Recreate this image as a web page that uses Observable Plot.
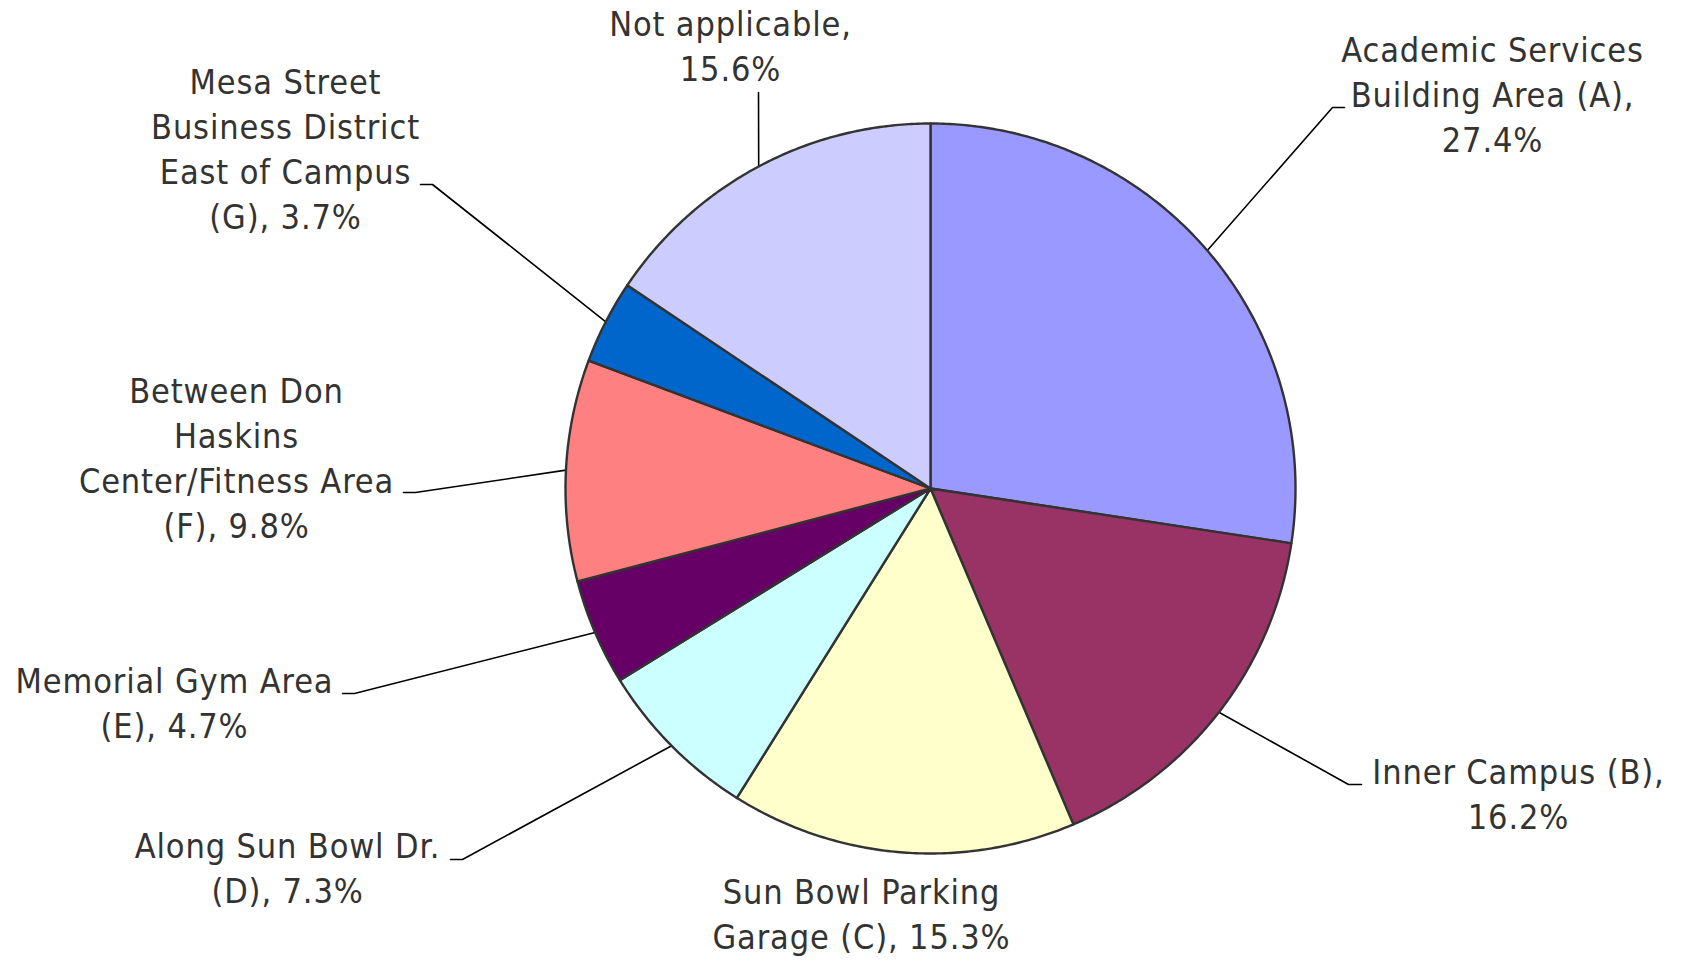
<!DOCTYPE html>
<html>
<head>
<meta charset="utf-8">
<script src="https://cdn.jsdelivr.net/npm/d3@7"></script>
<script src="https://cdn.jsdelivr.net/npm/@observablehq/plot@0.6"></script>
<style>
  html, body { margin: 0; padding: 0; background: #fff; }
  #chart { width: 1688px; height: 962px; }
  #chart svg text { letter-spacing: 0.85px; }
</style>
</head>
<body>
<div id="chart"></div>
<script>
// ---- data ----
const categories = [
  "Academic Services Building Area (A)",
  "Inner Campus (B)",
  "Sun Bowl Parking Garage (C)",
  "Along Sun Bowl Dr. (D)",
  "Memorial Gym Area (E)",
  "Between Don Haskins Center/Fitness Area (F)",
  "Mesa Street Business District East of Campus (G)",
  "Not applicable"
];
const values = [27.4, 16.2, 15.3, 7.3, 4.7, 9.8, 3.7, 15.6];
const colors = ["#9999FF", "#993366", "#FFFFCC", "#CCFFFF", "#660066", "#FF8080", "#0066CC", "#CCCCFF"];
const labelText = [
  "Academic Services\nBuilding Area (A),\n27.4%",
  "Inner Campus (B),\n16.2%",
  "Sun Bowl Parking\nGarage (C), 15.3%",
  "Along Sun Bowl Dr.\n(D), 7.3%",
  "Memorial Gym Area\n(E), 4.7%",
  "Between Don\nHaskins\nCenter/Fitness Area\n(F), 9.8%",
  "Mesa Street\nBusiness District\nEast of Campus\n(G), 3.7%",
  "Not applicable,\n15.6%"
];

// ---- layout (pixels) ----
const W = 1688, H = 962;
const cx = 930, cy = 488, R = 365;
// label anchor (tx,ty), leader elbow (ex,ey), leader end x (hx); null = no leader
const labelLayout = [
  {tx: 1492, ty: 92,  leader: {ex: 1332, ey: 107, hx: 1344}},
  {tx: 1518, ty: 792, leader: {ex: 1348, ey: 784, hx: 1361}},
  {tx: 861,  ty: 912, leader: null},
  {tx: 287,  ty: 866, leader: {ex: 462, ey: 859, hx: 450}},
  {tx: 174,  ty: 701, leader: {ex: 354, ey: 693, hx: 342}},
  {tx: 236,  ty: 456, leader: {ex: 415, ey: 492, hx: 403}},
  {tx: 285,  ty: 147, leader: {ex: 432, ey: 184, hx: 420}},
  {tx: 730,  ty: 44,  leader: {ex: 758, ey: 92,  hx: 758}}
];

const pie = d3.pie().sort(null).value(d => d)(values);
const pt = (a, r) => ({x: cx + r * Math.sin(a), y: cy - r * Math.cos(a)});

const sliceMarks = pie.map((p, i) => {
  const pts = [{x: cx, y: cy}];
  const n = Math.max(4, Math.ceil((p.endAngle - p.startAngle) / (Math.PI / 360)));
  for (let k = 0; k <= n; k++) {
    pts.push(pt(p.startAngle + (p.endAngle - p.startAngle) * k / n, R));
  }
  pts.push({x: cx, y: cy});
  return Plot.line(pts, {x: "x", y: "y", fill: colors[i], stroke: "#333333", strokeWidth: 2.4, strokeLinejoin: "round", curve: "linear"});
});

const leaderMarks = [];
pie.forEach((p, i) => {
  const L = labelLayout[i].leader;
  if (!L) return;
  const mid = (p.startAngle + p.endAngle) / 2;
  const s = pt(mid, R);
  leaderMarks.push(Plot.line([s, {x: L.ex, y: L.ey}, {x: L.hx, y: L.ey}], {x: "x", y: "y", stroke: "#000", strokeWidth: 1.6}));
});

const textData = labelText.map((t, i) => ({text: t, x: labelLayout[i].tx, y: labelLayout[i].ty}));

const chart = Plot.plot({
  width: W,
  height: H,
  margin: 0,
  x: {domain: [0, W], range: [0, W], axis: null},
  y: {domain: [0, H], range: [0, H], axis: null},
  style: {background: "#fff"},
  marks: [
    ...leaderMarks,
    ...sliceMarks,
    Plot.text(textData, {
      x: "x", y: "y", text: "text",
      fontSize: 34, lineHeight: 45 / 34,
      fill: "#333333",
      textAnchor: "middle", lineAnchor: "middle",
      fontFamily: "'DejaVu Sans Condensed', 'DejaVu Sans', sans-serif",
      stroke: null
    })
  ]
});
document.getElementById("chart").appendChild(chart);
</script>
</body>
</html>
